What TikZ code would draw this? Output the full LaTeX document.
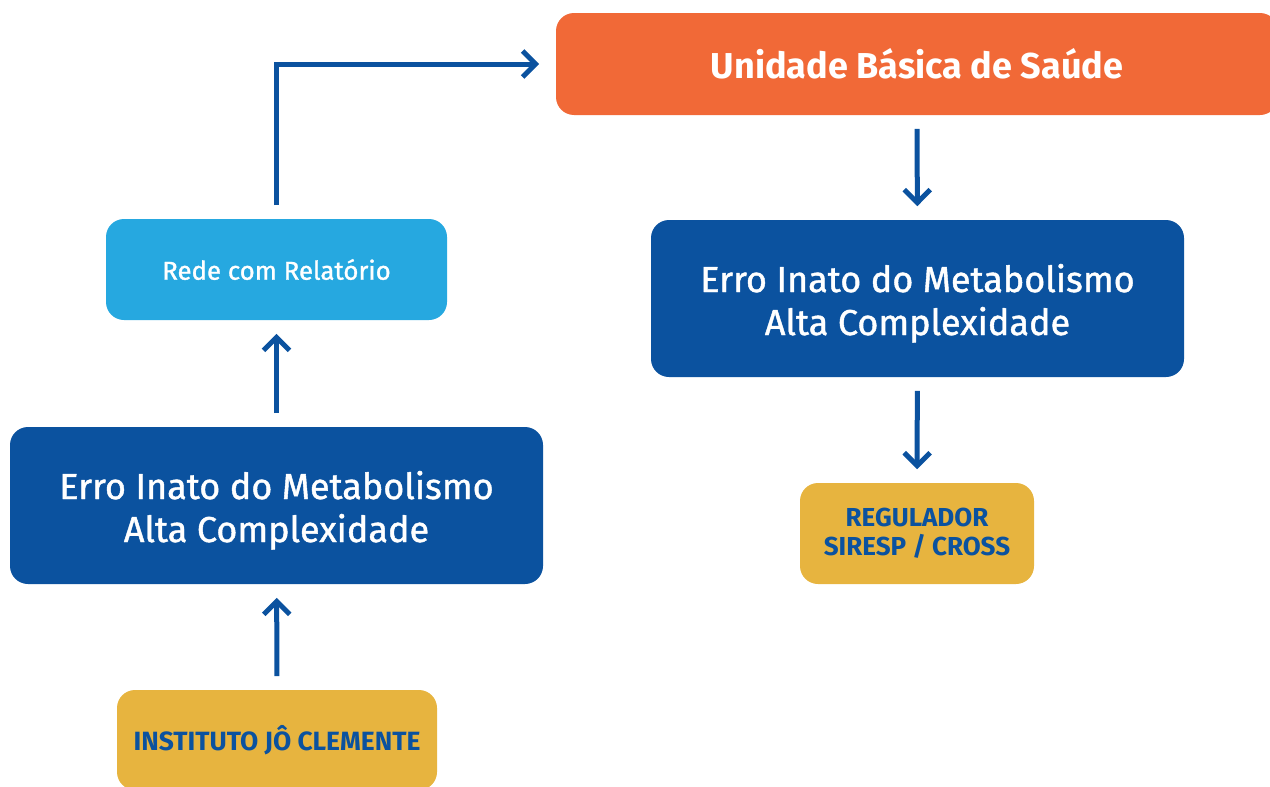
\documentclass[tikz,border=0pt]{standalone}
\usepackage{fontspec}
\setmainfont{Fira Sans}
\newfontfamily\medfont{Fira Sans}[FakeBold=1.2]
\definecolor{ubsorange}{RGB}{241, 105, 55}
\definecolor{darkblue}{RGB}{11, 82, 159}
\definecolor{skyblue}{RGB}{38, 168, 224}
\definecolor{mustard}{RGB}{231, 180, 63}
\usetikzlibrary{arrows.meta}

\begin{document}
\begin{tikzpicture}[x=0.5pt, y=-0.5pt, thick,
    box/.style={rectangle, rounded corners=9pt, align=center, inner sep=0pt},
    flow/.style={draw=darkblue, line width=2.5pt, -{Straight Barb[length=6.5pt, width=13pt, line width=2.5pt]}, shorten <=6.5pt, shorten >=6.5pt}]
    \useasboundingbox (0,0) rectangle (1270,787);

    % left column
    \node[box, fill=mustard, text=darkblue, minimum width=160pt, minimum height=50pt, font=\bfseries\fontsize{13.2}{16}\selectfont] (inst) at (277,740) {INSTITUTO JÔ CLEMENTE};
    \node[box, fill=darkblue, text=white, minimum width=266.5pt, minimum height=78.5pt, text height=36.5pt, text depth=0pt, font=\medfont\fontsize{18}{21.5}\selectfont] (eiml) at (276.5,505.5) {Erro Inato do Metabolismo\\Alta Complexidade};
    \node[box, fill=skyblue, text=white, minimum width=170.5pt, minimum height=50.5pt, font=\medfont\fontsize{12.9}{15}\selectfont] (rede) at (276.5,269.5) {Rede com Relatório};

    % right column
    \node[box, fill=ubsorange, text=white, minimum width=361pt, minimum height=51pt, font=\bfseries\fontsize{18}{22}\selectfont] (ubs) at (917,64) {Unidade Básica de Saúde};
    \node[box, fill=darkblue, text=white, minimum width=266.5pt, minimum height=78.5pt, text height=36.5pt, text depth=0pt, font=\medfont\fontsize{18}{21.5}\selectfont] (eimr) at (917.5,298.5) {Erro Inato do Metabolismo\\Alta Complexidade};
    \node[box, fill=mustard, text=darkblue, minimum width=117pt, minimum height=50.5pt, font=\bfseries\fontsize{13}{14.5}\selectfont] (reg) at (917,533.5) {REGULADOR\\SIRESP / CROSS};

    \draw[flow] (inst) -- (eiml);
    \draw[flow] (eiml) -- (rede);
    \draw[flow, shorten >=8pt] (rede.north) |- (ubs.west);
    \draw[flow] (ubs) -- (eimr);
    \draw[flow] (eimr) -- (reg);
\end{tikzpicture}
\end{document}
